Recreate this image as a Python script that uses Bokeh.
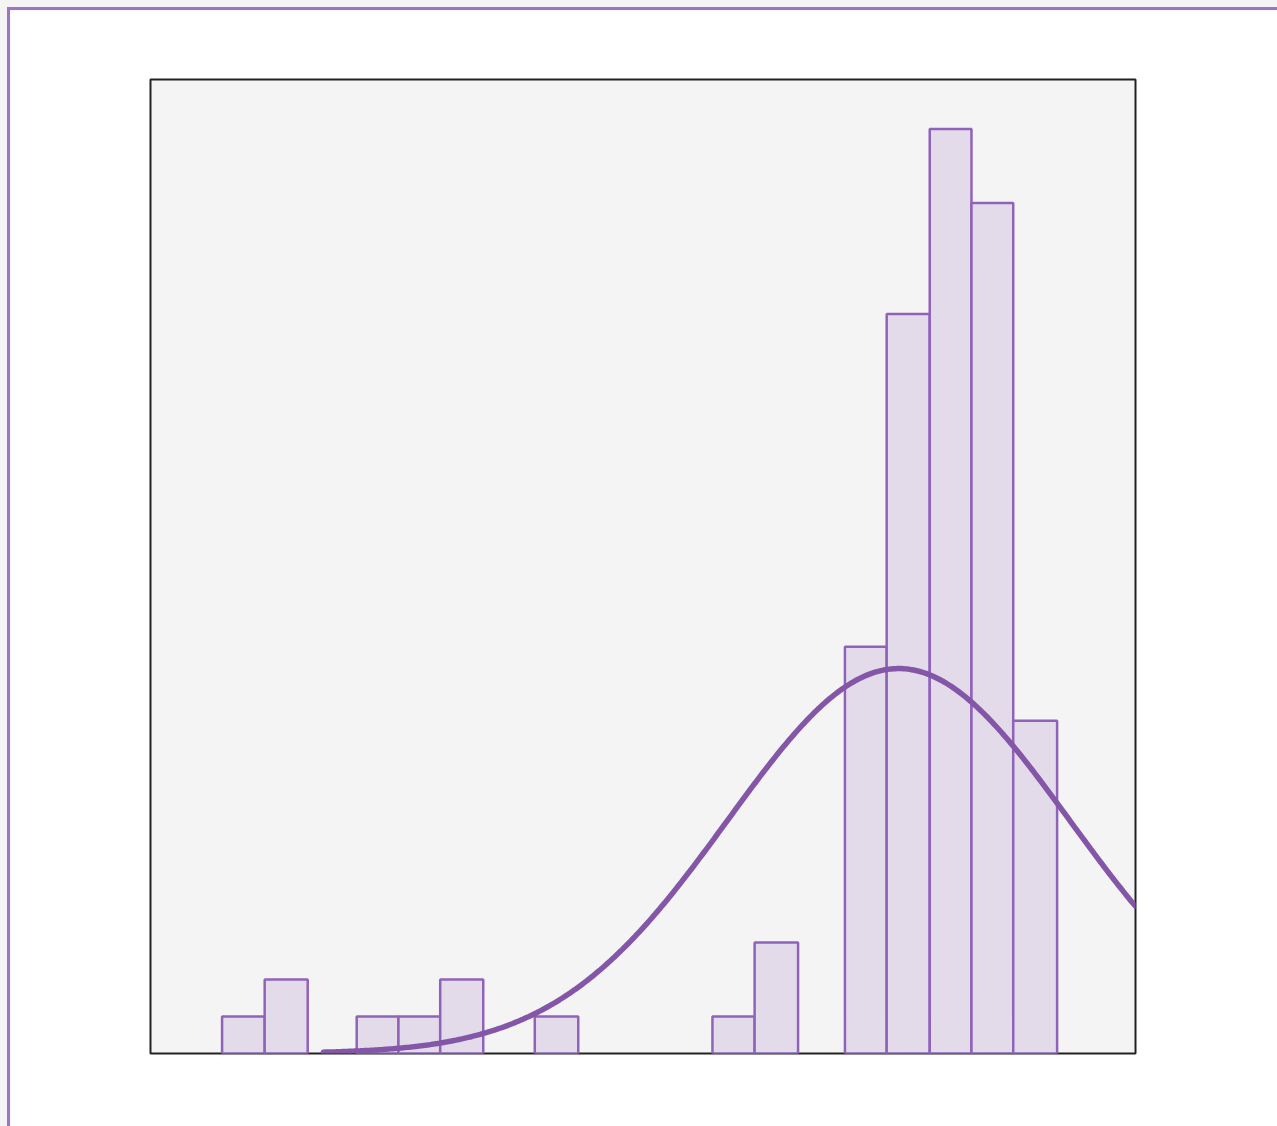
import numpy as np
from bokeh.plotting import figure
from bokeh.models import Range1d
from bokeh.layouts import column
from bokeh.embed import file_html
from bokeh.resources import INLINE

# Histogram bins (value units) and counts
bin_left = [1.68, 2.68, 4.84, 5.82, 6.80, 9.02, 13.19, 14.18, 16.30, 17.28, 18.29, 19.27, 20.25]
bin_right = [2.68, 3.69, 5.82, 6.80, 7.81, 10.04, 14.18, 15.20, 17.28, 18.29, 19.27, 20.25, 21.28]
counts = [1, 2, 1, 1, 2, 1, 1, 3, 11, 20, 25, 23, 9]

# Fitted normal curve: centre, spread, peak height (counts) and drawn span
curve_mean = 17.56
curve_sd = 4.01
curve_peak = 10.41
curve_start = 4.06

x_start, x_end = 0.0, 23.12
y_start, y_end = 0.0, 26.34

xs = np.linspace(curve_start, x_end, 400)
ys = curve_peak * np.exp(-0.5 * ((xs - curve_mean) / curve_sd) ** 2)

PURPLE = "#8456a8"

p = figure(
    output_backend="svg",
    toolbar_location=None,
    x_range=Range1d(x_start, x_end),
    y_range=Range1d(y_start, y_end),
    frame_width=982,
    frame_height=971,
    min_border_left=140,
    min_border_top=69,
    min_border_right=145,
    min_border_bottom=76,
    x_axis_type=None,
    y_axis_type=None,
)
p.grid.visible = False
p.background_fill_color = "#f4f4f4"
p.border_fill_color = "white"
p.outline_line_color = "#222222"
p.outline_line_width = 2

p.quad(left=bin_left, right=bin_right, bottom=0, top=counts,
       fill_color="#e3dbea", line_color="#9063bb", line_width=2.5)
p.line(xs, ys, line_color=PURPLE, line_width=5.5, line_cap="round")

p.styles = {
    "margin-left": "7px",
    "margin-top": "7px",
    "border-left": "3px solid #9d73c4",
    "border-top": "3px solid #9d73c4",
}

root = column(p, styles={"background-color": "#f4f4f4"})

open("out.html", "w").write(file_html(root, INLINE))
